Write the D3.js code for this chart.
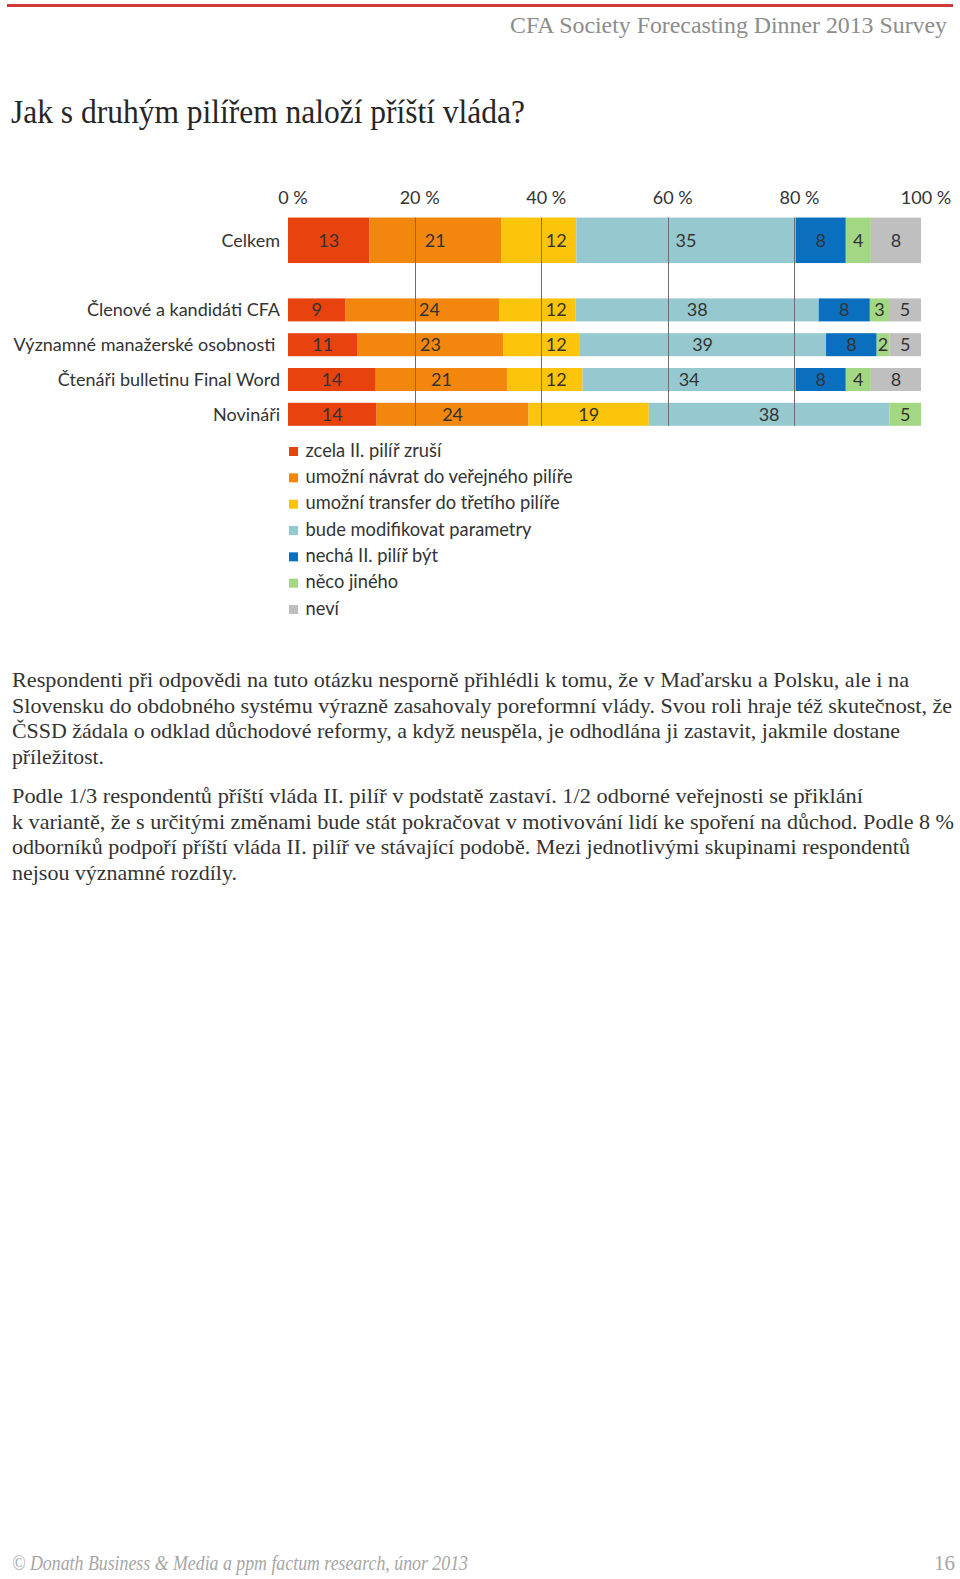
<!DOCTYPE html>
<html>
<head>
<meta charset="utf-8">
<script src="https://cdn.jsdelivr.net/npm/d3@7"></script>
<style>
  html, body { margin: 0; padding: 0; background: #fff; }
  svg { display: block; }
</style>
</head>
<body>
<svg id="chart" width="960" height="1579"></svg>
<script>
// ---- DATA ----
const categories = ["Celkem", "", "Členové a kandidáti CFA", "Významné manažerské osobnosti\u00A0", "Čtenáři bulletinu Final Word", "Novináři"];
const barCategories = ["Celkem", "Členové a kandidáti CFA", "Významné manažerské osobnosti\u00A0", "Čtenáři bulletinu Final Word", "Novináři"];
const seriesNames = ["zcela II. pilíř zruší", "umožní návrat do veřejného pilíře", "umožní transfer do třetího pilíře", "bude modifikovat parametry", "nechá II. pilíř být", "něco jiného", "neví"];
const zrusi      = [13, 9, 11, 14, 14];
const navrat     = [21, 24, 23, 21, 24];
const transfer   = [12, 12, 12, 12, 19];
const parametry  = [35, 38, 39, 34, 38];
const nechaByt   = [8, 8, 8, 8, 0];
const necoJineho = [4, 3, 2, 4, 5];
const nevi       = [8, 5, 5, 8, 0];
const tickValues = [0, 0.2, 0.4, 0.6, 0.8, 1];
const tickLabels = ["0 %", "20 %", "40 %", "60 %", "80 %", "100 %"];
const gridValues = [0.2, 0.4, 0.6, 0.8];
const colors = ["#E8420E", "#F3860C", "#FDC40C", "#96C9CF", "#0B6FC0", "#A4D784", "#BFBFBF"];

const headerText = "CFA Society Forecasting Dinner 2013 Survey";
const titleText = "Jak s druhým pilířem naloží příští vláda?";
const para1 = [
  "Respondenti při odpovědi na tuto otázku nesporně přihlédli k tomu, že v Maďarsku a Polsku, ale i na",
  "Slovensku do obdobného systému výrazně zasahovaly poreformní vlády. Svou roli hraje též skutečnost, že",
  "ČSSD žádala o odklad důchodové reformy, a když neuspěla, je odhodlána ji zastavit, jakmile dostane",
  "příležitost."
];
const para2 = [
  "Podle 1/3 respondentů příští vláda II. pilíř v podstatě zastaví. 1/2 odborné veřejnosti se přiklání",
  "k variantě, že s určitými změnami bude stát pokračovat v motivování lidí ke spoření na důchod. Podle 8 %",
  "odborníků podpoří příští vláda II. pilíř ve stávající podobě. Mezi jednotlivými skupinami respondentů",
  "nejsou významné rozdíly."
];
const footerText = "© Donath Business & Media a ppm factum research, únor 2013";
const pageNumber = "16";

// ---- LAYOUT ----
const svg = d3.select("#chart");
const serif = "'Liberation Serif', 'DejaVu Serif', serif";
const sans = "Lato, 'Open Sans', sans-serif";
const fs = 18;

// red top rule
svg.append("rect").attr("x", 7).attr("y", 4).attr("width", 946).attr("height", 3).attr("fill", "#D23A3A");

// header
svg.append("text").attr("x", 510).attr("y", 32.5)
  .attr("font-family", serif).attr("font-size", 24).attr("fill", "#8C8C8C")
  .attr("textLength", 437).attr("lengthAdjust", "spacingAndGlyphs").text(headerText);

// title
svg.append("text").attr("x", 11).attr("y", 122.5)
  .attr("font-family", serif).attr("font-size", 34).attr("fill", "#262626")
  .attr("textLength", 514).attr("lengthAdjust", "spacingAndGlyphs").text(titleText);

// ---- CHART ----
const x = d3.scaleLinear().domain([0, 1]).range([288, 921]);
const y = d3.scalePoint().domain(categories).range([240.3, 414.3]);
const barH = d => d === "Celkem" ? 45.5 : 23;

const rows = barCategories.map((c, i) => ({
  cat: c,
  s0: zrusi[i], s1: navrat[i], s2: transfer[i], s3: parametry[i],
  s4: nechaByt[i], s5: necoJineho[i], s6: nevi[i]
}));
const keys = ["s0", "s1", "s2", "s3", "s4", "s5", "s6"];
const stacked = d3.stack().keys(keys).offset(d3.stackOffsetExpand)(rows);

const gBars = svg.append("g");
stacked.forEach((layer, li) => {
  gBars.selectAll(null).data(layer.filter(d => d.data[keys[li]] > 0)).enter().append("rect")
    .attr("x", d => x(d[0]))
    .attr("width", d => x(d[1]) - x(d[0]))
    .attr("y", d => y(d.data.cat) - barH(d.data.cat) / 2)
    .attr("height", d => barH(d.data.cat))
    .attr("fill", colors[li]);
});

// gridlines (drawn over the bars like the reference)
const yTop = y("Celkem") - barH("Celkem") / 2;
const yBot = y("Novináři") + barH("Novináři") / 2;
svg.append("g").selectAll("line").data(gridValues).enter().append("line")
  .attr("x1", d => Math.round(x(d)) + 0.5).attr("x2", d => Math.round(x(d)) + 0.5)
  .attr("y1", yTop).attr("y2", yBot)
  .attr("stroke", "#6E6E6E").attr("stroke-width", 1);

// value labels (nudged right of a gridline when they would sit on it)
const gLab = svg.append("g").attr("font-family", sans).attr("font-size", fs).attr("fill", "#333");
stacked.forEach((layer, li) => {
  gLab.selectAll(null).data(layer.filter(d => d.data[keys[li]] > 0)).enter().append("text")
    .attr("x", d => (x(d[0]) + x(d[1])) / 2)
    .attr("y", d => y(d.data.cat) + 6.5)
    .attr("text-anchor", "middle")
    .text(d => d.data[keys[li]])
    .each(function () {
      const t = d3.select(this);
      const cx = +t.attr("x");
      const w = this.getComputedTextLength();
      gridValues.forEach(g => {
        const gx = x(g);
        if (gx > cx - w / 2 - 3 && gx < cx + w / 2 + 3) t.attr("x", gx + 4.5 + w / 2);
      });
    });
});

// top axis labels
const axisG = svg.append("g").attr("transform", "translate(0,204)")
  .call(d3.axisTop(x).tickValues(tickValues).tickFormat((d, i) => tickLabels[i]).tickSize(0).tickPadding(0));
axisG.select(".domain").remove();
axisG.selectAll("text").attr("font-family", sans).attr("font-size", fs).attr("fill", "#333")
  .attr("dx", 4.5).attr("dy", 0);

// category labels
svg.append("g").selectAll("text").data(barCategories).enter().append("text")
  .attr("x", 280).attr("y", d => y(d) + 6.5).attr("text-anchor", "end")
  .attr("font-family", sans).attr("font-size", fs).attr("fill", "#333")
  .style("white-space", "pre")
  .text(d => d);

// legend
const leg = svg.append("g").attr("font-family", sans).attr("font-size", 18.3).attr("fill", "#333");
const legY = d3.scalePoint().domain(seriesNames).range([450, 608]);
seriesNames.forEach((n, i) => {
  leg.append("rect").attr("x", 289).attr("y", legY(n) - 3).attr("width", 9).attr("height", 9).attr("fill", colors[i]);
  leg.append("text").attr("x", 305.5).attr("y", legY(n) + 6.5).text(n);
});

// paragraphs
const p1W = [897, 940, 888, 92];
const p2W = [851, 942, 898, 225];
const pG = svg.append("g").attr("font-family", serif).attr("font-size", 21).attr("fill", "#333");
para1.forEach((t, i) => {
  pG.append("text").attr("x", 12).attr("y", 687 + i * 25.5)
    .attr("textLength", p1W[i]).attr("lengthAdjust", "spacingAndGlyphs").text(t);
});
para2.forEach((t, i) => {
  pG.append("text").attr("x", 12).attr("y", 803 + i * 25.5)
    .attr("textLength", p2W[i]).attr("lengthAdjust", "spacingAndGlyphs").text(t);
});

// footer
svg.append("text").attr("x", 12).attr("y", 1570)
  .attr("font-family", serif).attr("font-style", "italic").attr("font-size", 21).attr("fill", "#A6A6A6")
  .attr("textLength", 456).attr("lengthAdjust", "spacingAndGlyphs").text(footerText);
svg.append("text").attr("x", 955).attr("y", 1570).attr("text-anchor", "end")
  .attr("font-family", serif).attr("font-size", 21).attr("fill", "#A6A6A6").text(pageNumber);
</script>
</body>
</html>
